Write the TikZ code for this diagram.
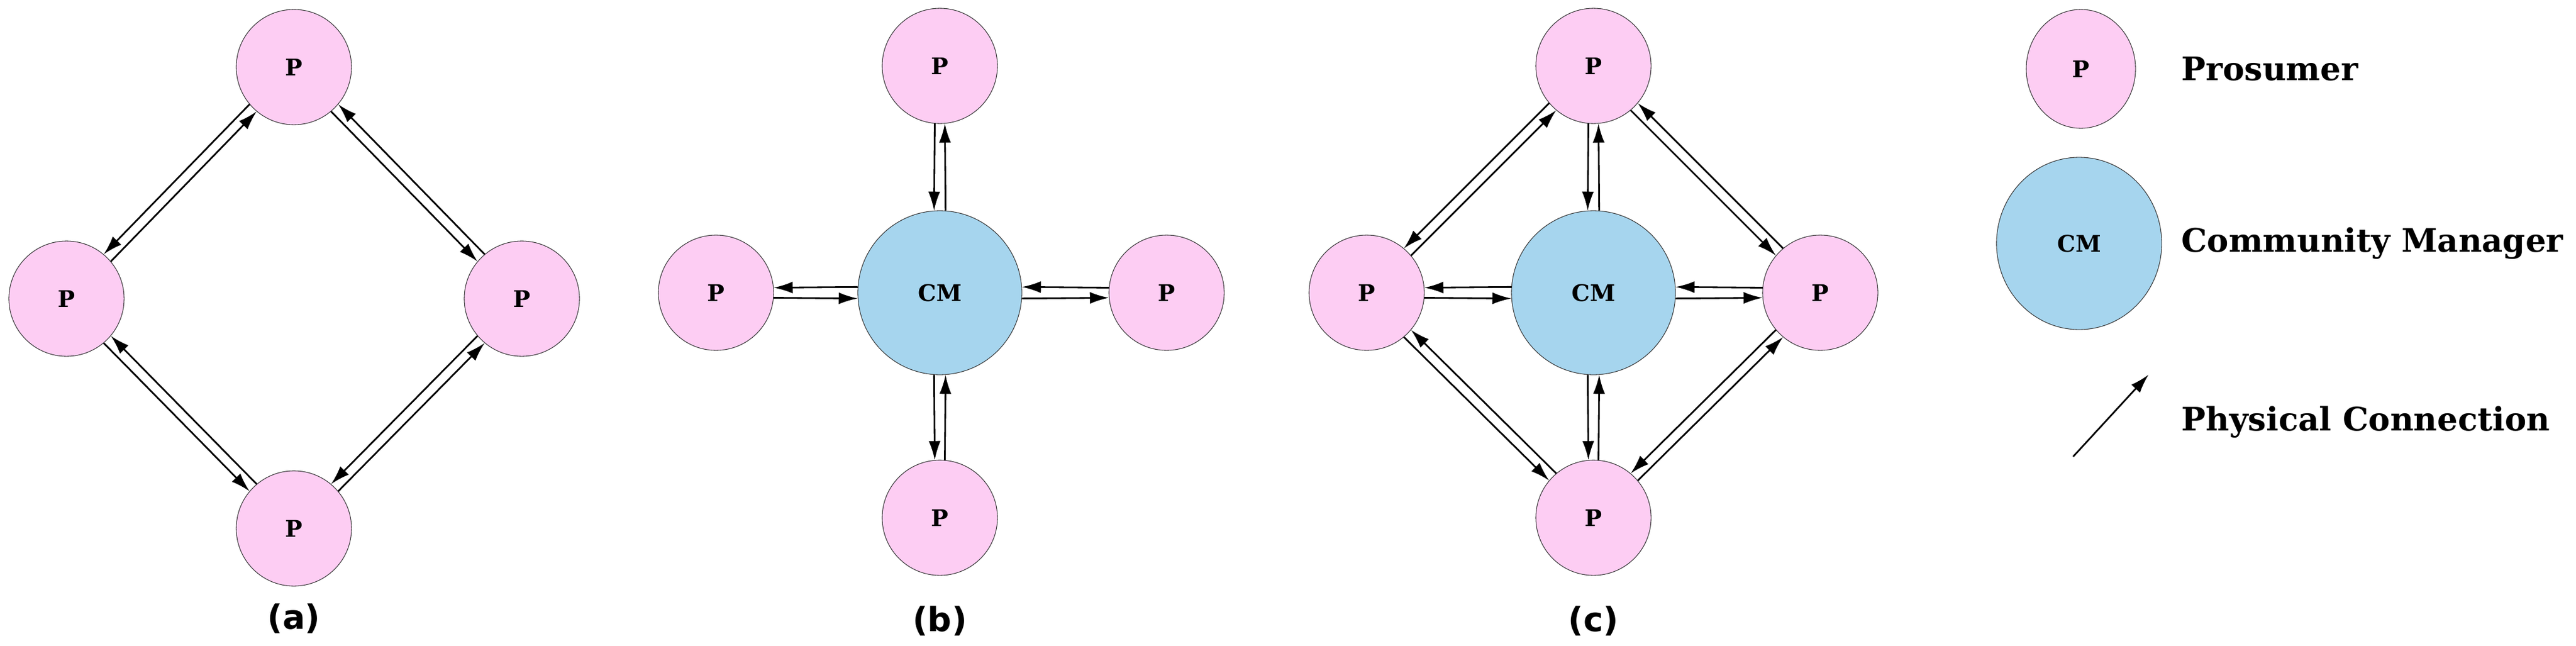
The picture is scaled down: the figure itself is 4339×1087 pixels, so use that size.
\documentclass[tikz,border=0pt]{standalone}
\usepackage{fontspec}
\setmainfont{DejaVu Serif}
\newfontfamily\labfont{DejaVu Sans}
\usetikzlibrary{shapes.geometric,arrows.meta}
\definecolor{pink}{RGB}{253,205,243}
\definecolor{cmblue}{RGB}{166,213,238}
\tikzset{
  pn/.style={circle,draw=black!80,line width=0.3pt,fill=pink,minimum size=1.94cm,inner sep=0pt,font=\fontsize{11}{13}\selectfont\bfseries},
  mgr/.style={circle,draw=black!80,line width=0.3pt,fill=cmblue,minimum size=2.76cm,inner sep=0pt,font=\fontsize{11}{13}\selectfont\bfseries},
  arr/.style={line width=0.8pt,-{Latex[length=0.32cm,width=0.2cm]}},
  sublabel/.style={font=\labfont\fontsize{16}{19}\selectfont\bfseries},
  leg/.style={anchor=west,font=\fontsize{15.5}{18}\selectfont\bfseries}
}
\newcommand{\pairarr}[5]{%
  \pgfmathtruncatemacro{\aa}{#3-#4}\pgfmathtruncatemacro{\ab}{#3+180+#5}%
  \pgfmathtruncatemacro{\ba}{#3+180-#5}\pgfmathtruncatemacro{\bb}{#3+#4}%
  \draw[arr] (#1.\aa) -- (#2.\ab);
  \draw[arr] (#2.\ba) -- (#1.\bb);}
\begin{document}
\begin{tikzpicture}[x=0.01cm,y=-0.01cm]
\useasboundingbox (0,0) rectangle (4339,1087);
% (a)
\node[pn] (at) at (495,113) {P};
\node[pn] (al) at (112,503) {P};
\node[pn] (ar) at (879,503) {P};
\node[pn] (ab) at (495,890) {P};
\node[sublabel] (la) at (495,1042) {(a)};
\pairarr{at}{al}{225}{5}{5}
\pairarr{al}{ab}{315}{5}{5}
\pairarr{ab}{ar}{45}{5}{5}
\pairarr{ar}{at}{135}{5}{5}
% (b)
\node[mgr] (bc) at (1583,493) {CM};
\node[pn] (bt) at (1583,111) {P};
\node[pn] (bl) at (1206,493) {P};
\node[pn] (br) at (1965,493) {P};
\node[pn] (bb) at (1583,872) {P};
\node[sublabel] (lb) at (1583,1046) {(b)};
\pairarr{bt}{bc}{270}{5}{4}
\pairarr{bc}{bb}{270}{4}{5}
\pairarr{bl}{bc}{0}{5}{4}
\pairarr{bc}{br}{0}{4}{5}
% (c)
\node[mgr] (cc) at (2684,493) {CM};
\node[pn] (ct) at (2684,111) {P};
\node[pn] (cl) at (2302,493) {P};
\node[pn] (cr) at (3066,493) {P};
\node[pn] (cb) at (2684,872) {P};
\node[sublabel] (lc) at (2684,1046) {(c)};
\pairarr{ct}{cl}{225}{5}{5}
\pairarr{cl}{cb}{315}{5}{5}
\pairarr{cb}{cr}{45}{5}{5}
\pairarr{cr}{ct}{135}{5}{5}
\pairarr{ct}{cc}{270}{5}{4}
\pairarr{cc}{cb}{270}{4}{5}
\pairarr{cl}{cc}{0}{5}{4}
\pairarr{cc}{cr}{0}{4}{5}
% legend
\node[ellipse,draw=black!80,line width=0.3pt,fill=pink,minimum width=1.84cm,minimum height=2.0cm,inner sep=0pt,font=\fontsize{11}{13}\selectfont\bfseries] (lp) at (3505,116) {P};
\node[ellipse,draw=black!80,line width=0.3pt,fill=cmblue,minimum width=2.78cm,minimum height=2.90cm,inner sep=0pt,font=\fontsize{11}{13}\selectfont\bfseries] (lcm) at (3502,410) {CM};
\coordinate (ls) at (3492,769);
\coordinate (le) at (3619,631);
\draw[arr] (ls) -- (le);
\node[leg] (tp) at (3662,116) {Prosumer};
\node[leg] (tcm) at (3662,410) {Community Manager};
\node[leg] (tpc) at (3662,711) {Physical Connection};
\end{tikzpicture}
\end{document}
